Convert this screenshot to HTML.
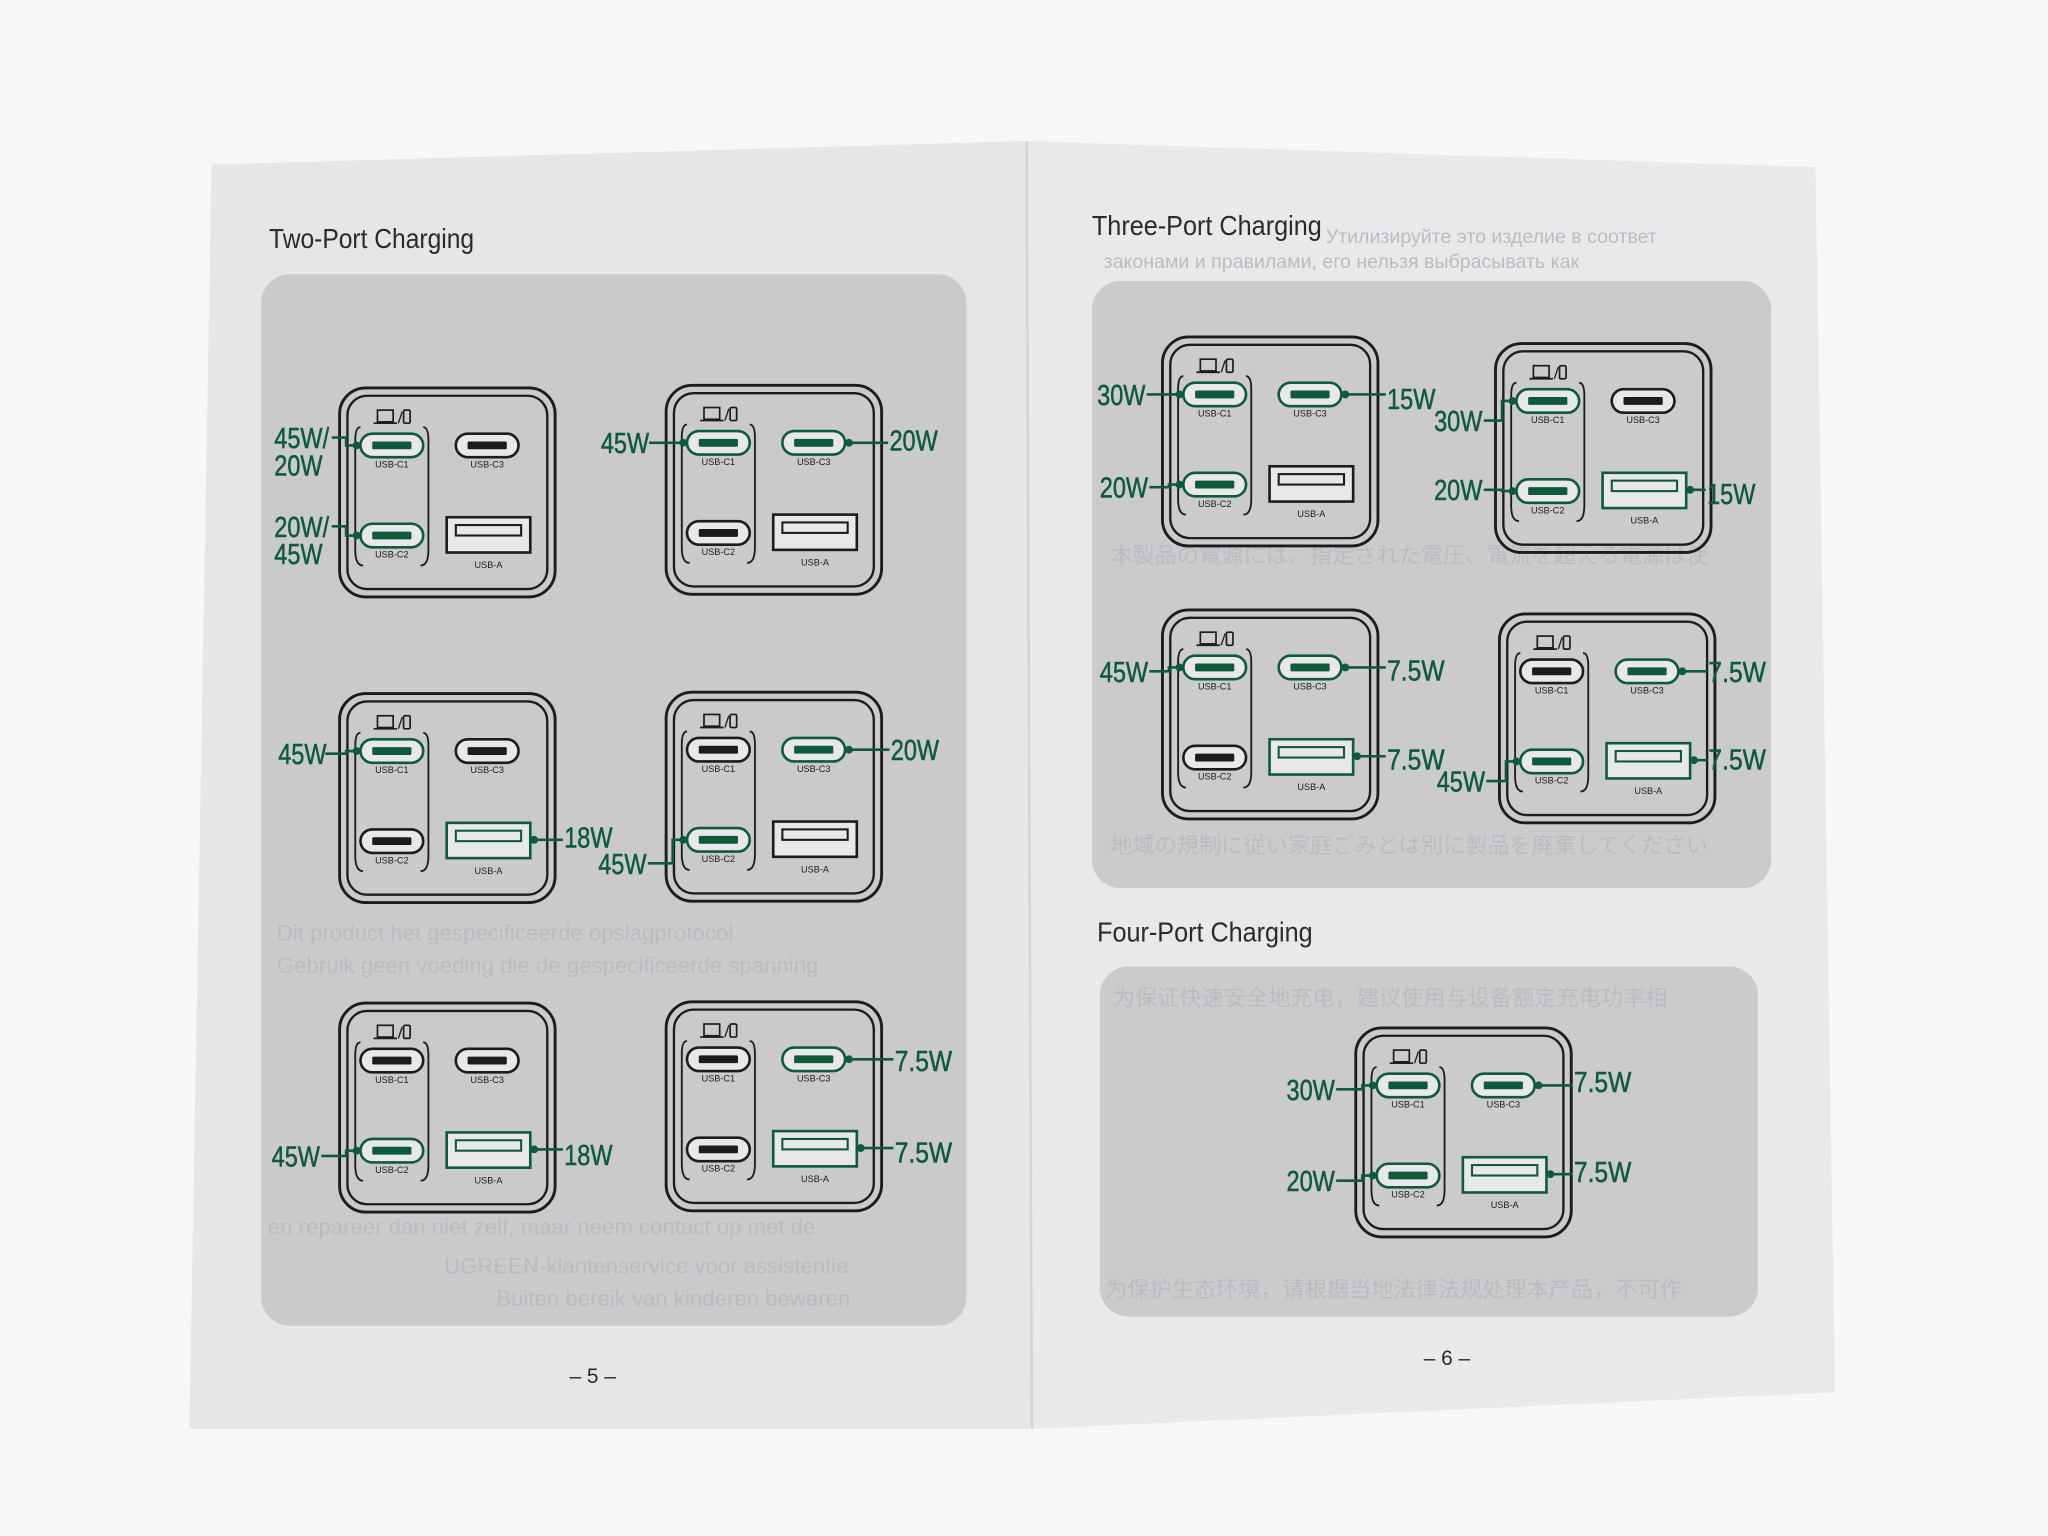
<!DOCTYPE html>
<html><head><meta charset="utf-8"><style>
html,body{margin:0;padding:0;background:#f7f7f8;}
svg{display:block}
</style></head><body>
<svg id="s" width="2048" height="1536" viewBox="0 0 1568 1176" xmlns="http://www.w3.org/2000/svg">
<rect width="1568" height="1176" fill="#f7f7f8"/>
<polygon points="162,126 785,108 790,1094 145,1094" fill="#e6e6e9"/>
<polygon points="785,108 1390,128 1405,1066 790,1094" fill="#e9e9ec"/>
<line x1="786" y1="108" x2="790" y2="1094" stroke="#d4d4d8" stroke-width="2"/>
<rect x="200" y="210" width="540" height="805" rx="22" fill="#cacacd"/>
<rect x="836" y="215" width="520" height="465" rx="22" fill="#cbcbce"/>
<rect x="842" y="740" width="504" height="268" rx="22" fill="#cbcbce"/>
<g font-family="'Liberation Sans Narrow','Liberation Sans',sans-serif" fill="#2a2a2a" font-size="21">
<text x="206" y="190" textLength="157" lengthAdjust="spacingAndGlyphs">Two-Port Charging</text>
<text x="836" y="180" textLength="176" lengthAdjust="spacingAndGlyphs">Three-Port Charging</text>
<text x="840" y="721" textLength="165" lengthAdjust="spacingAndGlyphs">Four-Port Charging</text>
<text x="436" y="1059" font-size="16">– 5 –</text>
<text x="1090" y="1045" font-size="16">– 6 –</text>
</g>
<g font-family="'Liberation Sans','Noto Sans CJK JP',sans-serif" fill="#bcbcc0" font-size="17">
<text x="1015" y="186" font-size="15">Утилизируйте это изделие в соответ</text>
<text x="845" y="205" font-size="15">законами и правилами, его нельзя выбрасывать как</text>
<text x="850" y="431">本製品の電源には、指定された電圧、電流を超える電源は使</text>
<text x="850" y="653">地域の規制に従い家庭ごみとは別に製品を廃棄してください</text>
<text x="852" y="770">为保证快速安全地充电，建议使用与设备额定充电功率相</text>
<text x="846" y="993">为保护生态环境，请根据当地法律法规处理本产品，不可作</text>
<text x="212" y="720">Dit product het gespecificeerde opslagprotocol</text>
<text x="212" y="745">Gebruik geen voeding die de gespecificeerde spanning</text>
<text x="205" y="945">en repareer dan niet zelf, maar neem contact op met de</text>
<text x="340" y="975">UGREEN-klantenservice voor assistentie</text>
<text x="380" y="1000">Buiten bereik van kinderen bewaren</text>
</g>
<g id="ch"></g>
</svg>
<script>
var G='#0f5a3b',K='#1c1c1c';
var ns='http://www.w3.org/2000/svg';
var root=document.getElementById('ch');
function el(t,a,p){var e=document.createElementNS(ns,t);for(var k in a)e.setAttribute(k,a[k]);(p||root).appendChild(e);return e;}
var P={C1:[40,44],C3:[113,44],C2:[40,113]};
function charger(x,y,act,labels){
 var g=el('g',{transform:'translate('+x+','+y+')'});
 el('rect',{x:0,y:0,width:165,height:160,rx:20,fill:'none',stroke:K,'stroke-width':2.2},g);
 el('rect',{x:6,y:6,width:153,height:148,rx:15,fill:'none',stroke:K,'stroke-width':1.8},g);
 el('path',{d:'M16,30 Q12,30 12,40 L12,124 Q12,136 18,136 M64,30 Q68,30 68,40 L68,124 Q68,136 62,136',fill:'none',stroke:K,'stroke-width':1.4},g);
 el('rect',{x:29,y:17,width:12,height:9,fill:'none',stroke:K,'stroke-width':1.3},g);
 el('line',{x1:26,y1:27,x2:44,y2:27,stroke:K,'stroke-width':1.3},g);
 el('line',{x1:45,y1:27,x2:48,y2:18,stroke:K,'stroke-width':1},g);
 el('rect',{x:49,y:17,width:5,height:10,rx:1,fill:'none',stroke:K,'stroke-width':1.3},g);
 ['C1','C2','C3'].forEach(function(p){var c=P[p],on=act.indexOf(p)>=0;
  el('rect',{x:c[0]-24,y:c[1]-9,width:48,height:18,rx:9,fill:'#e8e8ea',stroke:on?G:K,'stroke-width':2},g);
  el('rect',{x:c[0]-15,y:c[1]-3,width:30,height:6,rx:1,fill:on?G:K},g);
  var t=el('text',{x:c[0],y:c[1]+17,'font-size':7,'text-anchor':'middle','font-family':'Liberation Sans Narrow,Liberation Sans,sans-serif',fill:K},g);t.textContent='USB-'+p;});
 var on=act.indexOf('A')>=0;
 el('rect',{x:82,y:99,width:64,height:27,fill:'#e8e8ea',stroke:on?G:K,'stroke-width':2},g);
 el('rect',{x:89,y:105,width:50,height:8,fill:'none',stroke:on?G:K,'stroke-width':1.6},g);
 var t=el('text',{x:114,y:138,'font-size':7,'text-anchor':'middle','font-family':'Liberation Sans Narrow,Liberation Sans,sans-serif',fill:K},g);t.textContent='USB-A';
 labels.forEach(function(L){
  var port=L[0],pt;
  if(port=='A')pt=[x+149,y+112];else{var c=P[port];pt=[x+c[0]+(port=='C3'?27:-27),y+c[1]];}
  var right=(port=='C3'||port=='A');
  var lines=L[1].split('|'),lx=L[2],ly=L[3];
  var pts;
  var w0=L[4]||38;
  if(right){pts=[[pt[0],pt[1]],[lx-1,pt[1]]];}
  else{var ex=lx+w0;pts=[[ex,ly-8],[pt[0]-8,ly-8],[pt[0]-8,pt[1]],[pt[0],pt[1]]];}
  el('polyline',{points:pts.map(function(q){return q.join(',')}).join(' '),fill:'none',stroke:G,'stroke-width':2},root);
  el('circle',{cx:pt[0],cy:pt[1],r:3,fill:G},root);
  lines.forEach(function(s,i){
   var tl = s=='7.5W'?44:(s.length==4?42:37);
   if(!right && s.length==3 && w0>40) tl=37;
   var t=el('text',{x:lx,y:ly+i*21,'font-size':22,fill:G,'font-family':'Liberation Sans Narrow,Liberation Sans,sans-serif',stroke:G,'stroke-width':0.4,textLength:tl,lengthAdjust:'spacingAndGlyphs'},root);t.textContent=s;});
 });
}
charger(260,297,['C1','C2'],[['C1','45W/|20W',210,343,44],['C2','20W/|45W',210,411,44]]);
charger(510,295,['C1','C3'],[['C1','45W',460,347,37],['C3','20W',681,345]]);
charger(260,531,['C1','A'],[['C1','45W',213,585,36],['A','18W',432,649]]);
charger(510,530,['C3','C2'],[['C3','20W',682,582],['C2','45W',458,669,38]]);
charger(260,768,['C2','A'],[['C2','45W',208,893,38],['A','18W',432,892]]);
charger(510,767,['C3','A'],[['C3','7.5W',685,820],['A','7.5W',685,890]]);
charger(890,258,['C1','C3','C2'],[['C1','30W',840,310,38],['C3','15W',1062,313],['C2','20W',842,381,38]]);
charger(1145,263,['C1','C2','A'],[['C1','30W',1098,330,38],['C2','20W',1098,383,38],['A','15W',1307,386]]);
charger(890,467,['C1','C3','A'],[['C1','45W',842,522,38],['C3','7.5W',1062,521],['A','7.5W',1062,589]]);
charger(1148,470,['C3','C2','A'],[['C3','7.5W',1308,522],['C2','45W',1100,606,38],['A','7.5W',1308,589]]);
charger(1038,787,['C1','C3','C2','A'],[['C1','30W',985,842,38],['C3','7.5W',1205,836],['C2','20W',985,912,38],['A','7.5W',1205,905]]);
</script>
</body></html>
